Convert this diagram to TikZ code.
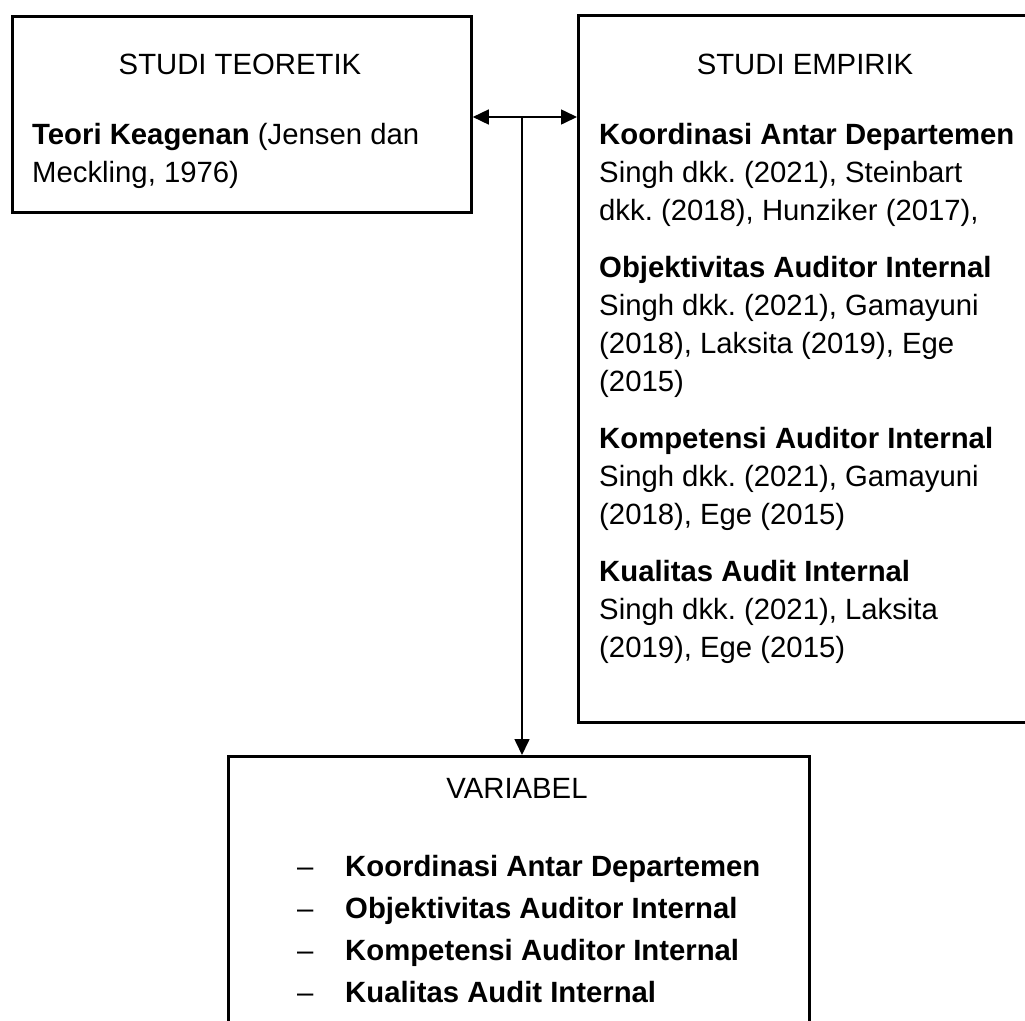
\documentclass[tikz,border=0pt]{standalone}
\usepackage{fontspec}
\setmainfont{Liberation Sans}
\usetikzlibrary{arrows.meta}
\frenchspacing
\begin{document}
\begin{tikzpicture}[x=1pt,y=-1pt,
  boxshape/.style={draw=black,line width=2.8pt,rectangle,inner sep=0pt,anchor=north west},
  txt/.style={anchor=base west,inner sep=0pt,font=\fontsize{29.3}{34}\selectfont},
  ctxt/.style={anchor=base,inner sep=0pt,font=\fontsize{29.3}{34}\selectfont},
  conn/.style={draw=black,line width=1.6pt},
  >={Triangle[length=16pt,width=15pt]}
]
\useasboundingbox (0,0) rectangle (1025,1020);
\clip (0,0) rectangle (1025,1020);
\fill[white] (0,0) rectangle (1025,1020);

% boxes
\node[boxshape,minimum width=459pt,minimum height=196pt] (teori) at (11,15) {};
\node[boxshape,minimum width=456pt,minimum height=707pt] (empirik) at (577,14) {};
\node[boxshape,minimum width=581pt,minimum height=320pt] (var) at (227,755) {};

% left box text
\node[ctxt] (t0) at (240,74) {STUDI TEORETIK};
\node[txt] (t1) at (32,144) {\textbf{Teori Keagenan} (Jensen dan};
\node[txt] (t2) at (32,182) {Meckling, 1976)};

% right box text
\node[ctxt] (e0) at (805,74) {STUDI EMPIRIK};
\node[txt] (e1) at (599,144) {\textbf{Koordinasi Antar Departemen}};
\node[txt] (e2) at (599,182) {Singh dkk. (2021), Steinbart};
\node[txt] (e3) at (599,220) {dkk. (2018), Hunziker (2017),};
\node[txt] (e4) at (599,277) {\textbf{Objektivitas Auditor Internal}};
\node[txt] (e5) at (599,315) {Singh dkk. (2021), Gamayuni};
\node[txt] (e6) at (599,353) {(2018), Laksita (2019), Ege};
\node[txt] (e7) at (599,391) {(2015)};
\node[txt] (e8) at (599,448) {\textbf{Kompetensi Auditor Internal}};
\node[txt] (e9) at (599,486) {Singh dkk. (2021), Gamayuni};
\node[txt] (e10) at (599,524) {(2018), Ege (2015)};
\node[txt] (e11) at (599,581) {\textbf{Kualitas Audit Internal}};
\node[txt] (e12) at (599,619) {Singh dkk. (2021), Laksita};
\node[txt] (e13) at (599,657) {(2019), Ege (2015)};

% bottom box text
\node[ctxt] (v0) at (517,798) {VARIABEL};
\node[txt] (d1) at (297,876) {–};
\node[txt] (v1) at (345,876) {\textbf{Koordinasi Antar Departemen}};
\node[txt] (d2) at (297,918) {–};
\node[txt] (v2) at (345,918) {\textbf{Objektivitas Auditor Internal}};
\node[txt] (d3) at (297,960) {–};
\node[txt] (v3) at (345,960) {\textbf{Kompetensi Auditor Internal}};
\node[txt] (d4) at (297,1002) {–};
\node[txt] (v4) at (345,1002) {\textbf{Kualitas Audit Internal}};

% connectors
\coordinate (j) at (522,117);
\draw[conn,<->] (teori.east |- j) -- (empirik.west |- j);
\draw[conn,->] (j) -- (j |- var.north);
\end{tikzpicture}
\end{document}
